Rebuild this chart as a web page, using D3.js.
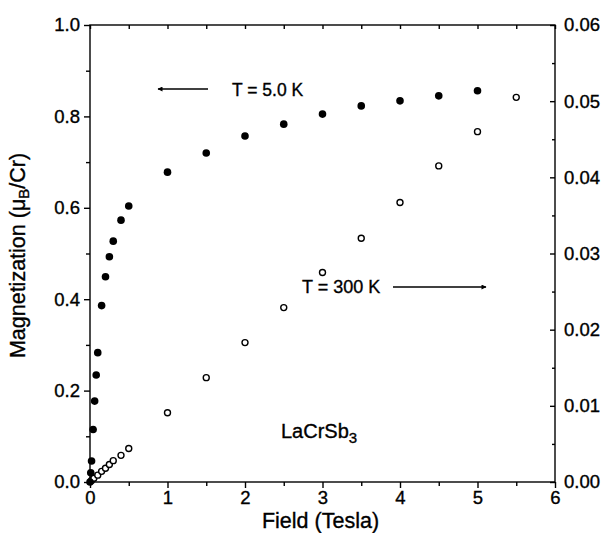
<!DOCTYPE html>
<html>
<head>
<meta charset="utf-8">
<title>LaCrSb3 magnetization</title>
<script src="https://d3js.org/d3.v7.min.js"></script>
<style>
  body { margin: 0; background: #fff; }
  svg { font-family: "Liberation Sans", Arial, sans-serif; }
  svg text { fill: #000; stroke: #000; stroke-width: 0.35px; }
  .axis path, .axis line { stroke: #000; stroke-width: 1.4; }
  .axis text { font-size: 18.5px; }
</style>
</head>
<body>
<div id="chart"></div>
<script>
// T = 5.0 K, left axis (muB/Cr)
var fieldLow = [0, 0.01, 0.02, 0.04, 0.06, 0.08, 0.1, 0.15, 0.2, 0.25, 0.3, 0.4, 0.5,
                1, 1.5, 2, 2.5, 3, 3.5, 4, 4.5, 5];
var mag5K = [0, 0.02, 0.046, 0.115, 0.177, 0.234, 0.283, 0.386, 0.449, 0.493, 0.527, 0.573, 0.604,
             0.678, 0.72, 0.757, 0.783, 0.805, 0.823, 0.834, 0.845, 0.856];
// T = 300 K, right axis
var fieldHigh = [0.02, 0.05, 0.1, 0.15, 0.2, 0.25, 0.3, 0.4, 0.5,
                 1, 1.5, 2, 2.5, 3, 3.5, 4, 4.5, 5, 5.5];
var mag300K = [0.0002, 0.0005, 0.0009, 0.0014, 0.0018, 0.0023, 0.0028, 0.0035, 0.0044,
               0.0091, 0.0137, 0.0183, 0.0229, 0.0275, 0.032, 0.0367, 0.0415, 0.046, 0.0505];

var xTicks = [0, 1, 2, 3, 4, 5, 6];
var xMinor = [0.5, 1.5, 2.5, 3.5, 4.5, 5.5];
var yLeftTicks = [0, 0.2, 0.4, 0.6, 0.8, 1.0];
var yLeftMinor = [0.1, 0.3, 0.5, 0.7, 0.9];
var yRightTicks = [0, 0.01, 0.02, 0.03, 0.04, 0.05, 0.06];
var yRightMinor = [0.005, 0.015, 0.025, 0.035, 0.045, 0.055];

var W = 605, H = 533;
var margin = { top: 25, right: 50, bottom: 51, left: 90 };
var width = W - margin.left - margin.right,
    height = H - margin.top - margin.bottom;

var svg = d3.select("#chart").append("svg")
    .attr("width", W).attr("height", H);
var g = svg.append("g")
    .attr("transform", "translate(" + margin.left + "," + margin.top + ")");

var x = d3.scaleLinear().domain([0, 6]).range([0, width]);
var yL = d3.scaleLinear().domain([0, 1]).range([height, 0]);
var yR = d3.scaleLinear().domain([0, 0.06]).range([height, 0]);

// frame
g.append("rect").attr("width", width).attr("height", height)
    .attr("fill", "none").attr("stroke", "#000").attr("stroke-width", 1.4);

// bottom axis
g.append("g").attr("class", "axis")
    .attr("transform", "translate(0," + height + ")")
    .call(d3.axisBottom(x).tickValues(xTicks).tickFormat(d3.format("d")).tickSize(6).tickPadding(3))
    .call(a => a.select(".domain").remove());
g.append("g").attr("class", "axis")
    .attr("transform", "translate(0," + height + ")")
    .call(d3.axisBottom(x).tickValues(xMinor).tickFormat("").tickSize(4))
    .call(a => a.select(".domain").remove());
// top axis (inward ticks)
g.append("g").attr("class", "axis")
    .call(d3.axisBottom(x).tickValues(xTicks.concat(xMinor)).tickFormat("").tickSize(4))
    .call(a => a.select(".domain").remove());

// left axis
g.append("g").attr("class", "axis")
    .call(d3.axisLeft(yL).tickValues(yLeftTicks).tickFormat(d3.format(".1f")).tickSize(6).tickPadding(4))
    .call(a => a.select(".domain").remove());
g.append("g").attr("class", "axis")
    .call(d3.axisLeft(yL).tickValues(yLeftMinor).tickFormat("").tickSize(4))
    .call(a => a.select(".domain").remove());

// right axis (inward ticks)
g.append("g").attr("class", "axis")
    .attr("transform", "translate(" + width + ",0)")
    .call(d3.axisLeft(yR).tickValues(yRightTicks).tickFormat("").tickSize(5))
    .call(a => a.select(".domain").remove());
g.append("g").attr("class", "axis")
    .attr("transform", "translate(" + width + ",0)")
    .call(d3.axisLeft(yR).tickValues(yRightMinor).tickFormat("").tickSize(3))
    .call(a => a.select(".domain").remove());
g.append("g").attr("class", "axis")
    .attr("transform", "translate(" + width + ",0)")
    .call(d3.axisRight(yR).tickValues(yRightTicks).tickFormat(d3.format(".2f")).tickSize(0).tickPadding(9))
    .call(a => a.select(".domain").remove());

// data
g.selectAll("circle.open").data(fieldHigh.map((f, i) => [f, mag300K[i]]))
  .enter().append("circle").attr("class", "open")
    .attr("cx", d => x(d[0])).attr("cy", d => yR(d[1])).attr("r", 3)
    .attr("fill", "#fff").attr("stroke", "#000").attr("stroke-width", 1.4);
g.selectAll("circle.filled").data(fieldLow.map((f, i) => [f, mag5K[i]]))
  .enter().append("circle").attr("class", "filled")
    .attr("cx", d => x(d[0])).attr("cy", d => yL(d[1])).attr("r", 3.8)
    .attr("fill", "#000");

// labels
svg.append("text")
    .attr("transform", "translate(25," + (margin.top + height / 2 + 2) + ") rotate(-90)")
    .attr("text-anchor", "middle").style("font-size", "21.5px")
    .html('Magnetization (\u03bc<tspan baseline-shift="-25%" font-size="15px">B</tspan>/Cr)');
svg.append("text")
    .attr("x", margin.left + width / 2 - 2).attr("y", 528)
    .attr("text-anchor", "middle").style("font-size", "21.5px")
    .text("Field (Tesla)");

// annotations
var defs = svg.append("defs");
defs.append("marker").attr("id", "arr").attr("viewBox", "0 0 10 10")
    .attr("refX", 9).attr("refY", 5).attr("markerWidth", 10).attr("markerHeight", 5)
    .attr("orient", "auto-start-reverse").attr("markerUnits", "userSpaceOnUse")
  .append("path").attr("d", "M0,0 L10,5 L0,10 z").attr("fill", "#000");

svg.append("line").attr("x1", 208).attr("y1", 89).attr("x2", 158).attr("y2", 89)
    .attr("stroke", "#000").attr("stroke-width", 1.3).attr("marker-end", "url(#arr)");
svg.append("text").attr("x", 232).attr("y", 96).style("font-size", "17.5px").text("T = 5.0 K");

svg.append("text").attr("x", 302).attr("y", 293).style("font-size", "18px").text("T = 300 K");
svg.append("line").attr("x1", 393).attr("y1", 287).attr("x2", 486).attr("y2", 287)
    .attr("stroke", "#000").attr("stroke-width", 1.3).attr("marker-end", "url(#arr)");

svg.append("text").attr("x", 281).attr("y", 438).style("font-size", "20px")
    .html('LaCrSb<tspan baseline-shift="-30%" font-size="15px">3</tspan>');
</script>
</body>
</html>
